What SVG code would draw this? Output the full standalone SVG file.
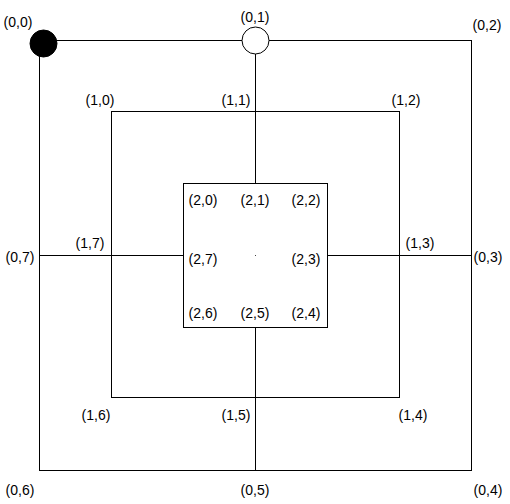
<svg xmlns="http://www.w3.org/2000/svg" width="510" height="504" viewBox="0 0 510 504">
<style>
.ln{fill:none;stroke:#000;stroke-width:1}
.lb{font-family:"Liberation Sans",Arial,Helvetica,sans-serif;font-size:14px;fill:#000;text-anchor:middle}
.pb{fill:#000;stroke:#000;stroke-width:1}
.pw{fill:#fff;stroke:#000;stroke-width:1}
</style>
<rect width="510" height="504" fill="#fff"/>
<g id="connectors">
<rect class="ln" x="39.5" y="40.5" width="432" height="430"/>
<rect class="ln" x="111.5" y="111.5" width="288" height="286"/>
<rect class="ln" x="183.5" y="183.5" width="144" height="144"/>
<line class="ln" x1="255.5" y1="40.5" x2="255.5" y2="183.5"/>
<line class="ln" x1="255.5" y1="327.5" x2="255.5" y2="470.5"/>
<line class="ln" x1="39.5" y1="255.5" x2="183.5" y2="255.5"/>
<line class="ln" x1="327.5" y1="255.5" x2="471.5" y2="255.5"/>
</g>
<rect x="255" y="255" width="1" height="1" fill="#444"/>
<g id="n00"><circle class="pb" cx="43.5" cy="43.5" r="13.5"/><text class="lb" x="18" y="27">(0,0)</text></g>
<g id="n01"><circle class="pw" cx="255.5" cy="40.5" r="13.5"/><text class="lb" x="255" y="22">(0,1)</text></g>
<g id="n02"><text class="lb" x="487" y="30">(0,2)</text></g>
<g id="n03"><text class="lb" x="488" y="262">(0,3)</text></g>
<g id="n04"><text class="lb" x="488" y="495">(0,4)</text></g>
<g id="n05"><text class="lb" x="255" y="495">(0,5)</text></g>
<g id="n06"><text class="lb" x="20" y="495">(0,6)</text></g>
<g id="n07"><text class="lb" x="20" y="262">(0,7)</text></g>
<g id="n10"><text class="lb" x="100" y="105">(1,0)</text></g>
<g id="n11"><text class="lb" x="236" y="105">(1,1)</text></g>
<g id="n12"><text class="lb" x="406" y="105">(1,2)</text></g>
<g id="n13"><text class="lb" x="420" y="248">(1,3)</text></g>
<g id="n14"><text class="lb" x="413" y="420">(1,4)</text></g>
<g id="n15"><text class="lb" x="236" y="420">(1,5)</text></g>
<g id="n16"><text class="lb" x="96" y="420">(1,6)</text></g>
<g id="n17"><text class="lb" x="90" y="248">(1,7)</text></g>
<g id="n20"><text class="lb" x="203" y="205">(2,0)</text></g>
<g id="n21"><text class="lb" x="255" y="205">(2,1)</text></g>
<g id="n22"><text class="lb" x="306" y="205">(2,2)</text></g>
<g id="n23"><text class="lb" x="306" y="264">(2,3)</text></g>
<g id="n24"><text class="lb" x="306" y="318">(2,4)</text></g>
<g id="n25"><text class="lb" x="255" y="318">(2,5)</text></g>
<g id="n26"><text class="lb" x="203" y="318">(2,6)</text></g>
<g id="n27"><text class="lb" x="203" y="264">(2,7)</text></g>
</svg>
